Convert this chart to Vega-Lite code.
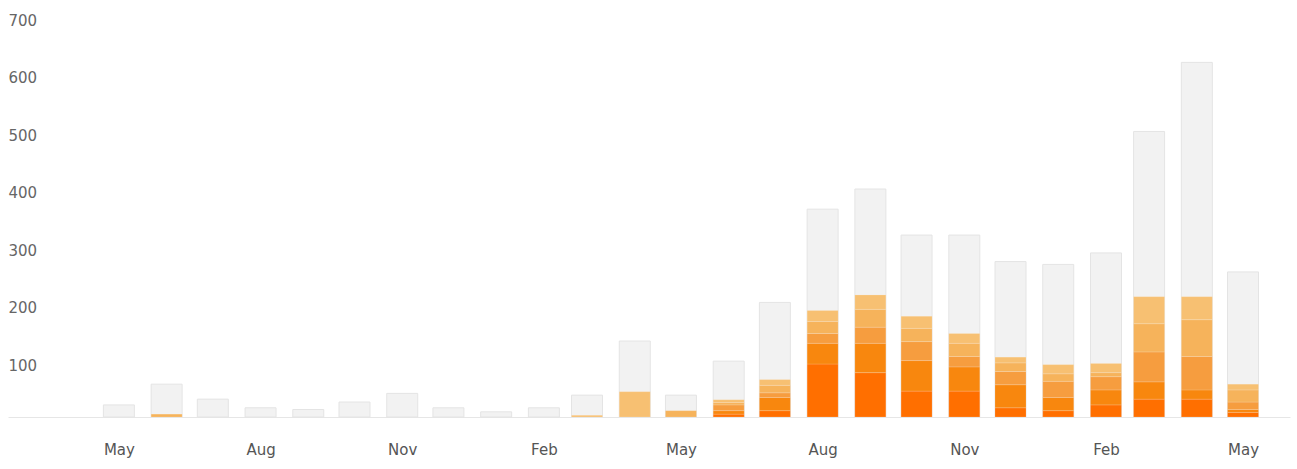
{
  "$schema": "https://vega.github.io/schema/vega-lite/v6.json",
  "width": 1282,
  "height": 403,
  "autosize": "none",
  "padding": {"left": 8, "top": 14, "right": 7, "bottom": 52},
  "background": "#ffffff",
  "config": {"view": {"stroke": null}},
  "data": {
    "values": [
      {"month": "2013-05-01", "series": "Total", "value": 21},
      {"month": "2013-06-01", "series": "Total", "value": 57},
      {"month": "2013-06-01", "series": "Level 4", "value": 5},
      {"month": "2013-07-01", "series": "Total", "value": 31},
      {"month": "2013-08-01", "series": "Total", "value": 16},
      {"month": "2013-09-01", "series": "Total", "value": 13},
      {"month": "2013-10-01", "series": "Total", "value": 26},
      {"month": "2013-11-01", "series": "Total", "value": 41},
      {"month": "2013-12-01", "series": "Total", "value": 16},
      {"month": "2014-01-01", "series": "Total", "value": 9},
      {"month": "2014-02-01", "series": "Total", "value": 16},
      {"month": "2014-03-01", "series": "Total", "value": 38},
      {"month": "2014-03-01", "series": "Level 5", "value": 3},
      {"month": "2014-04-01", "series": "Total", "value": 132},
      {"month": "2014-04-01", "series": "Level 5", "value": 44},
      {"month": "2014-05-01", "series": "Total", "value": 38},
      {"month": "2014-05-01", "series": "Level 4", "value": 11},
      {"month": "2014-06-01", "series": "Total", "value": 97},
      {"month": "2014-06-01", "series": "Level 1", "value": 5},
      {"month": "2014-06-01", "series": "Level 2", "value": 6},
      {"month": "2014-06-01", "series": "Level 3", "value": 10},
      {"month": "2014-06-01", "series": "Level 4", "value": 4},
      {"month": "2014-06-01", "series": "Level 5", "value": 5},
      {"month": "2014-07-01", "series": "Total", "value": 199},
      {"month": "2014-07-01", "series": "Level 1", "value": 11},
      {"month": "2014-07-01", "series": "Level 2", "value": 23},
      {"month": "2014-07-01", "series": "Level 3", "value": 8},
      {"month": "2014-07-01", "series": "Level 4", "value": 13},
      {"month": "2014-07-01", "series": "Level 5", "value": 10},
      {"month": "2014-08-01", "series": "Total", "value": 361},
      {"month": "2014-08-01", "series": "Level 1", "value": 92},
      {"month": "2014-08-01", "series": "Level 2", "value": 36},
      {"month": "2014-08-01", "series": "Level 3", "value": 17},
      {"month": "2014-08-01", "series": "Level 4", "value": 21},
      {"month": "2014-08-01", "series": "Level 5", "value": 19},
      {"month": "2014-09-01", "series": "Total", "value": 396},
      {"month": "2014-09-01", "series": "Level 1", "value": 77},
      {"month": "2014-09-01", "series": "Level 2", "value": 51},
      {"month": "2014-09-01", "series": "Level 3", "value": 28},
      {"month": "2014-09-01", "series": "Level 4", "value": 31},
      {"month": "2014-09-01", "series": "Level 5", "value": 25},
      {"month": "2014-10-01", "series": "Total", "value": 316},
      {"month": "2014-10-01", "series": "Level 1", "value": 45},
      {"month": "2014-10-01", "series": "Level 2", "value": 53},
      {"month": "2014-10-01", "series": "Level 3", "value": 33},
      {"month": "2014-10-01", "series": "Level 4", "value": 23},
      {"month": "2014-10-01", "series": "Level 5", "value": 21},
      {"month": "2014-11-01", "series": "Total", "value": 316},
      {"month": "2014-11-01", "series": "Level 1", "value": 45},
      {"month": "2014-11-01", "series": "Level 2", "value": 42},
      {"month": "2014-11-01", "series": "Level 3", "value": 18},
      {"month": "2014-11-01", "series": "Level 4", "value": 23},
      {"month": "2014-11-01", "series": "Level 5", "value": 17},
      {"month": "2014-12-01", "series": "Total", "value": 270},
      {"month": "2014-12-01", "series": "Level 1", "value": 16},
      {"month": "2014-12-01", "series": "Level 2", "value": 40},
      {"month": "2014-12-01", "series": "Level 3", "value": 23},
      {"month": "2014-12-01", "series": "Level 4", "value": 15},
      {"month": "2014-12-01", "series": "Level 5", "value": 10},
      {"month": "2015-01-01", "series": "Total", "value": 265},
      {"month": "2015-01-01", "series": "Level 1", "value": 11},
      {"month": "2015-01-01", "series": "Level 2", "value": 23},
      {"month": "2015-01-01", "series": "Level 3", "value": 28},
      {"month": "2015-01-01", "series": "Level 4", "value": 13},
      {"month": "2015-01-01", "series": "Level 5", "value": 16},
      {"month": "2015-02-01", "series": "Total", "value": 285},
      {"month": "2015-02-01", "series": "Level 1", "value": 21},
      {"month": "2015-02-01", "series": "Level 2", "value": 26},
      {"month": "2015-02-01", "series": "Level 3", "value": 23},
      {"month": "2015-02-01", "series": "Level 4", "value": 7},
      {"month": "2015-02-01", "series": "Level 5", "value": 16},
      {"month": "2015-03-01", "series": "Total", "value": 496},
      {"month": "2015-03-01", "series": "Level 1", "value": 31},
      {"month": "2015-03-01", "series": "Level 2", "value": 30},
      {"month": "2015-03-01", "series": "Level 3", "value": 52},
      {"month": "2015-03-01", "series": "Level 4", "value": 49},
      {"month": "2015-03-01", "series": "Level 5", "value": 47},
      {"month": "2015-04-01", "series": "Total", "value": 616},
      {"month": "2015-04-01", "series": "Level 1", "value": 31},
      {"month": "2015-04-01", "series": "Level 2", "value": 16},
      {"month": "2015-04-01", "series": "Level 3", "value": 58},
      {"month": "2015-04-01", "series": "Level 4", "value": 64},
      {"month": "2015-04-01", "series": "Level 5", "value": 40},
      {"month": "2015-05-01", "series": "Total", "value": 252},
      {"month": "2015-05-01", "series": "Level 1", "value": 8},
      {"month": "2015-05-01", "series": "Level 2", "value": 5},
      {"month": "2015-05-01", "series": "Level 3", "value": 13},
      {"month": "2015-05-01", "series": "Level 4", "value": 21},
      {"month": "2015-05-01", "series": "Level 5", "value": 10}
    ]
  },
  "encoding": {
    "x": {
      "field": "month",
      "type": "temporal",
      "scale": {
        "type": "utc",
        "padding": 0,
        "domain": [
          {"year": 2013, "month": 2, "date": 18, "utc": true},
          {"year": 2015, "month": 5, "date": 31, "hours": 12, "utc": true}
        ]
      },
      "axis": {
        "title": null,
        "values": [
          {"year": 2013, "month": 5, "date": 1, "utc": true},
          {"year": 2013, "month": 8, "date": 1, "utc": true},
          {"year": 2013, "month": 11, "date": 1, "utc": true},
          {"year": 2014, "month": 2, "date": 1, "utc": true},
          {"year": 2014, "month": 5, "date": 1, "utc": true},
          {"year": 2014, "month": 8, "date": 1, "utc": true},
          {"year": 2014, "month": 11, "date": 1, "utc": true},
          {"year": 2015, "month": 2, "date": 1, "utc": true},
          {"year": 2015, "month": 5, "date": 1, "utc": true}
        ],
        "labelExpr": "utcFormat(datum.value, '%b')",
        "grid": false,
        "ticks": false,
        "tickSize": 0,
        "domain": true,
        "domainColor": "#e6e6e6",
        "domainWidth": 1,
        "labelPadding": 25,
        "labelFont": "DejaVu Sans",
        "labelFontSize": 15,
        "labelColor": "#555555",
        "labelFlush": false,
        "labelOverlap": false
      }
    }
  },
  "layer": [
    {
      "transform": [{"filter": "datum.series === 'Total'"}],
      "mark": {"type": "bar", "size": 31, "color": "#f2f2f2", "stroke": "#e4e4e4", "strokeWidth": 1},
      "encoding": {
        "y": {
          "field": "value",
          "type": "quantitative",
          "stack": null,
          "scale": {"domain": [0, 700], "nice": false},
          "axis": {
            "title": null,
            "values": [100, 200, 300, 400, 500, 600, 700],
            "grid": false,
            "ticks": false,
            "tickSize": 0,
            "domain": false,
            "labelAlign": "left",
            "labelBaseline": "middle",
            "labelPadding": 0,
            "labelOffset": 6,
            "labelFont": "DejaVu Sans",
            "labelFontSize": 15,
            "labelColor": "#666666"
          }
        }
      }
    },
    {
      "transform": [{"filter": "datum.series !== 'Total'"}],
      "mark": {"type": "bar", "size": 31, "stroke": "#ffffff", "strokeWidth": 0.5, "strokeOpacity": 0.3},
      "encoding": {
        "y": {"field": "value", "type": "quantitative", "stack": "zero"},
        "color": {
          "field": "series",
          "type": "nominal",
          "scale": {
            "domain": ["Level 1", "Level 2", "Level 3", "Level 4", "Level 5"],
            "range": ["#ff6f00", "#f8870e", "#f69d3f", "#f6b35b", "#f7c072"]
          },
          "legend": null
        },
        "order": {"field": "series", "sort": "ascending"}
      }
    }
  ]
}
